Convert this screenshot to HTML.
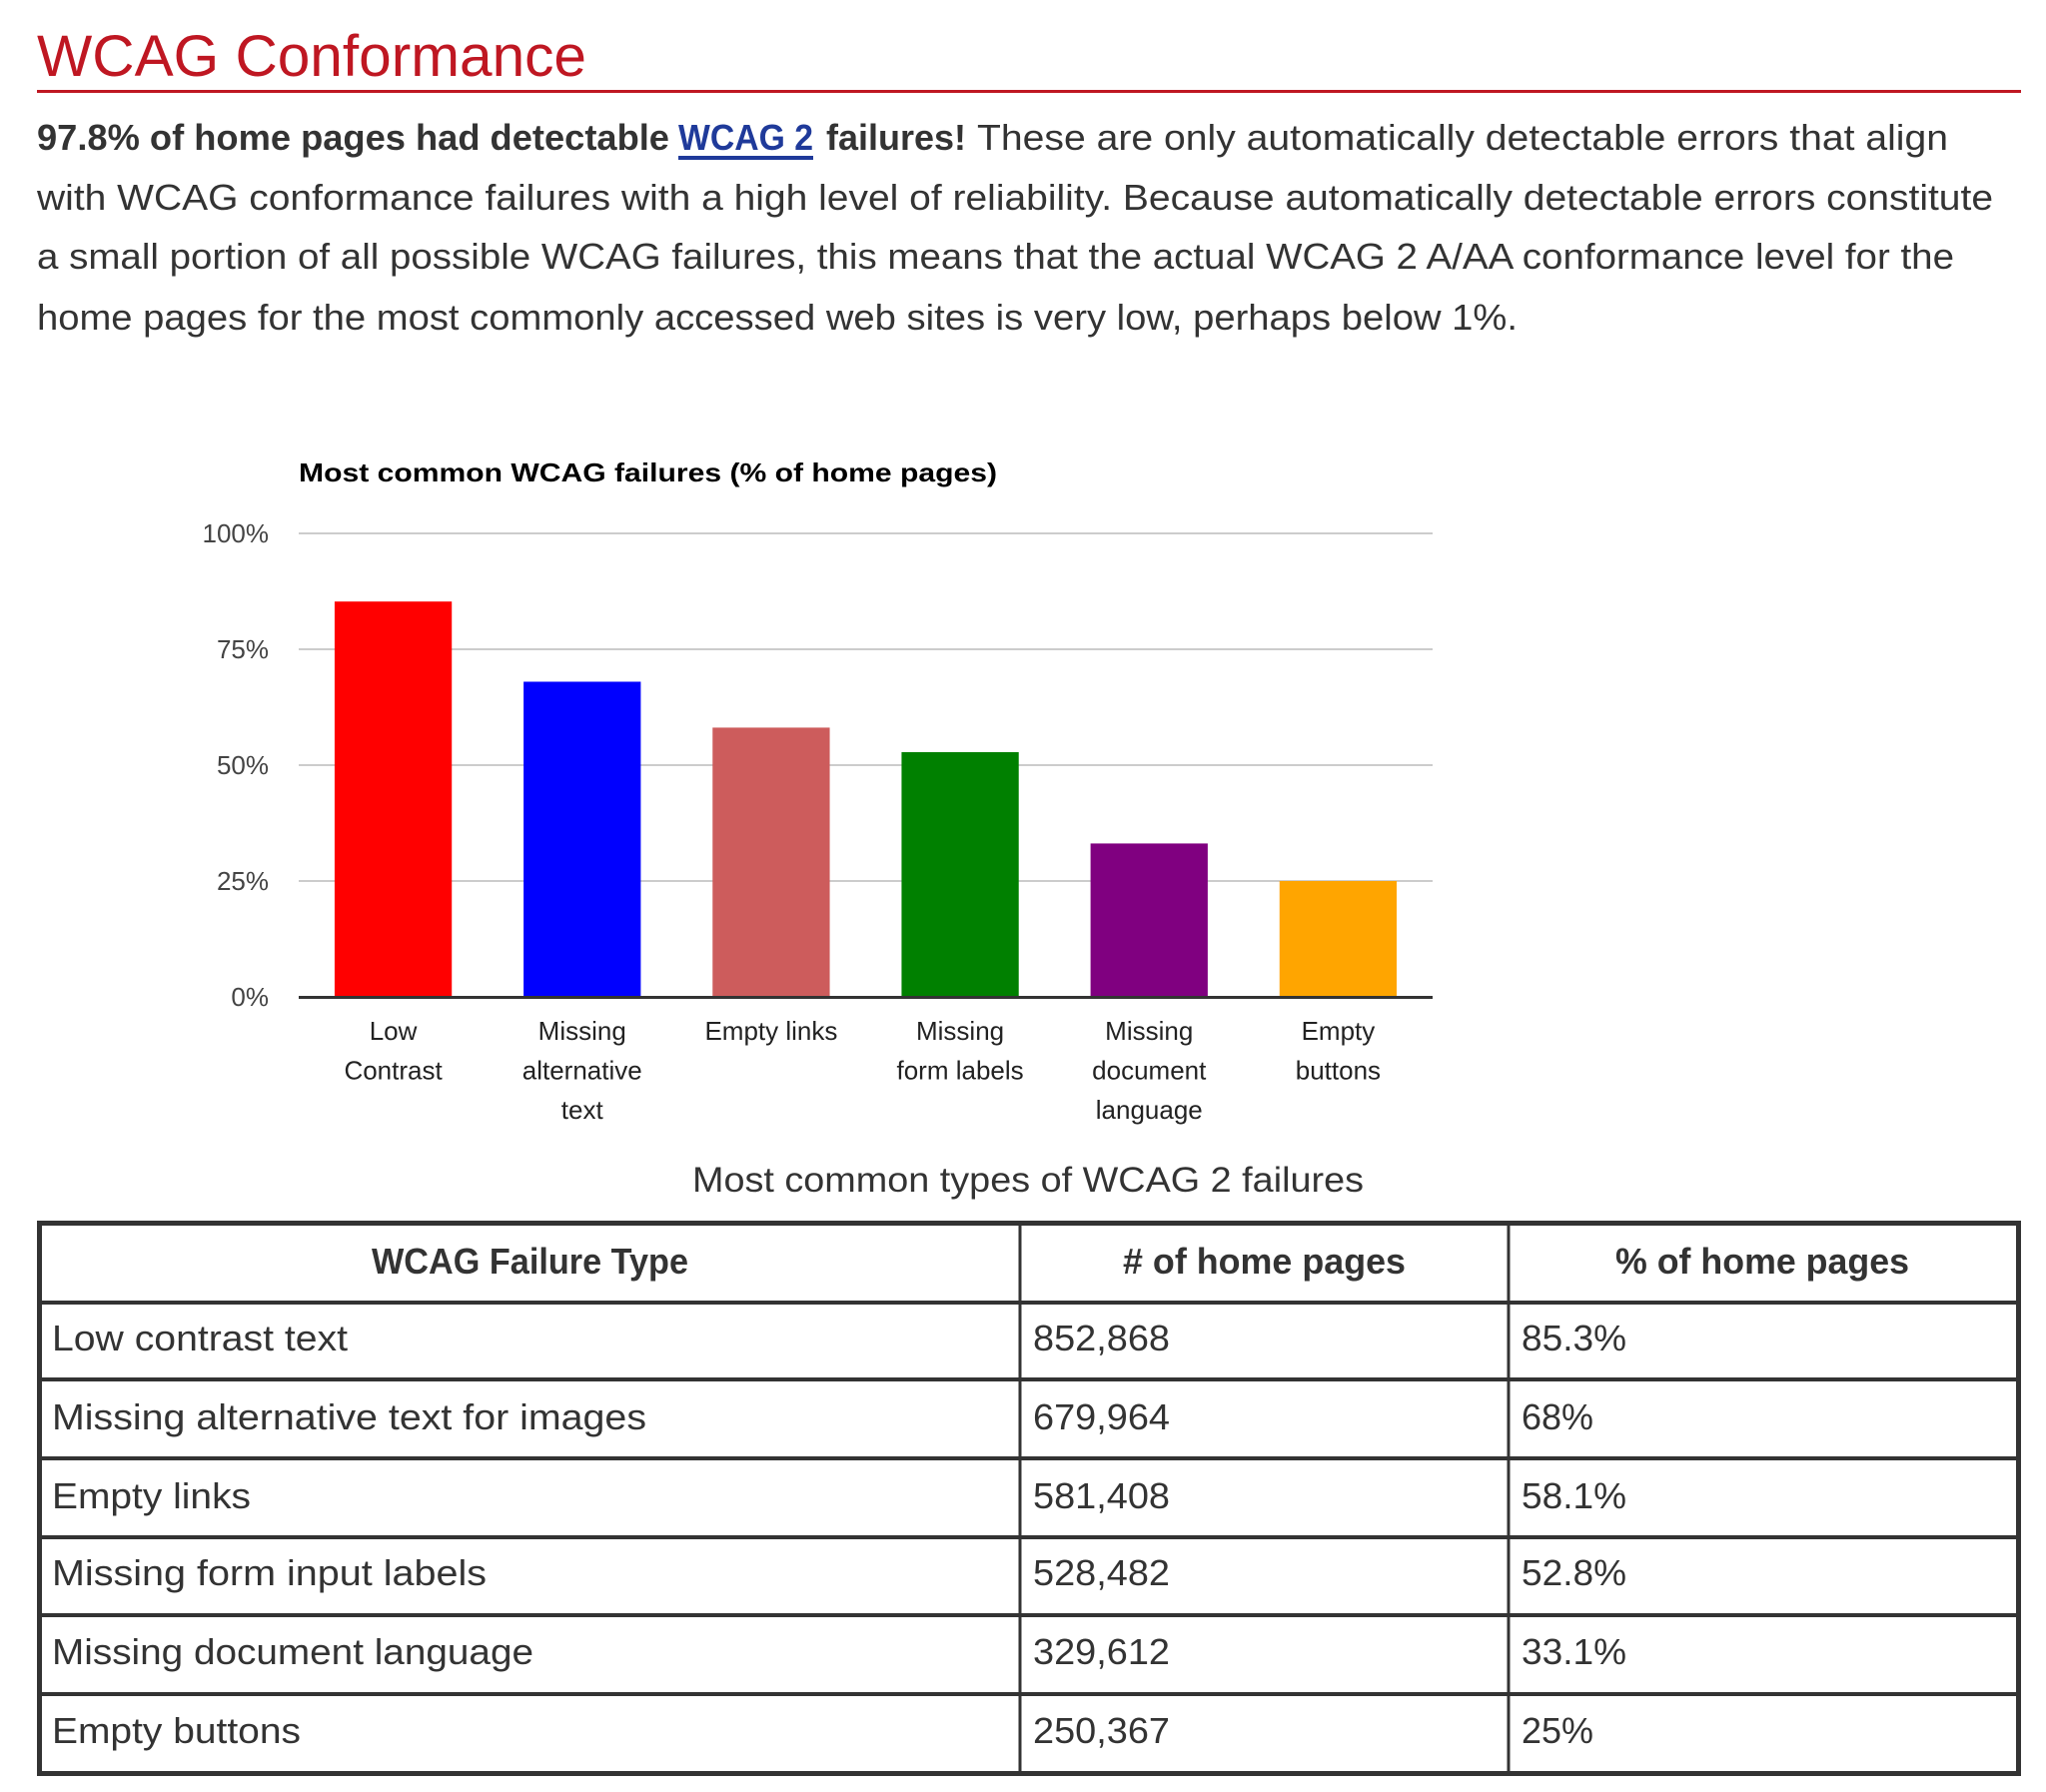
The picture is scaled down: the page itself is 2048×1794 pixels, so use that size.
<!DOCTYPE html>
<html><head><meta charset="utf-8"><style>
html,body{margin:0;padding:0;background:#fff;}
svg{display:block;font-family:"Liberation Sans",Arial,sans-serif;}
</style></head><body>
<svg id="page" width="2048" height="1794" viewBox="0 0 2048 1794" xmlns="http://www.w3.org/2000/svg">
<text x="37" y="76" font-size="58" fill="#bf1722" textLength="550" lengthAdjust="spacingAndGlyphs">WCAG Conformance</text>
<rect x="37" y="90" width="1986" height="3" fill="#bf1722"/>
<g font-size="36" fill="#333">
<text x="37" y="150" font-weight="bold" textLength="633" lengthAdjust="spacingAndGlyphs">97.8% of home pages had detectable</text>
<text x="679" y="150" font-weight="bold" fill="#1f3a9a" textLength="135" lengthAdjust="spacingAndGlyphs">WCAG 2</text>
<rect x="679" y="156" width="135" height="4" fill="#1f3a9a"/>
<text x="827" y="150" font-weight="bold" textLength="140" lengthAdjust="spacingAndGlyphs">failures!</text>
<text x="978" y="150" textLength="972" lengthAdjust="spacingAndGlyphs">These are only automatically detectable errors that align</text>
<text x="37" y="210" textLength="1958" lengthAdjust="spacingAndGlyphs">with WCAG conformance failures with a high level of reliability. Because automatically detectable errors constitute</text>
<text x="37" y="269" textLength="1919" lengthAdjust="spacingAndGlyphs">a small portion of all possible WCAG failures, this means that the actual WCAG 2 A/AA conformance level for the</text>
<text x="37" y="330" textLength="1482" lengthAdjust="spacingAndGlyphs">home pages for the most commonly accessed web sites is very low, perhaps below 1%.</text>
</g>
<g id="chart">
<text x="299" y="482" font-size="26" font-weight="bold" fill="#000" textLength="699" lengthAdjust="spacingAndGlyphs">Most common WCAG failures (% of home pages)</text>
</g>
<text x="1029" y="1193" font-size="35" fill="#333" text-anchor="middle" textLength="672" lengthAdjust="spacingAndGlyphs">Most common types of WCAG 2 failures</text>
<g id="table"></g>
</svg>
<script>
const categories = [["Low","Contrast"],["Missing","alternative","text"],["Empty links"],["Missing","form labels"],["Missing","document","language"],["Empty","buttons"]];
const values = [85.3, 68, 58.1, 52.8, 33.1, 25];
const colors = ["#ff0000","#0000ff","#cd5c5c","#008000","#800080","#ffa500"];
const yTicks = [0, 25, 50, 75, 100];
const yTickLabels = ["0%","25%","50%","75%","100%"];
const NS = "http://www.w3.org/2000/svg";
const chart = document.getElementById("chart");
const x0 = 299, x1 = 1434, yTop = 534, yBot = 998;
const yScale = v => yBot - (v / 100) * (yBot - yTop);
const band = (x1 - x0) / categories.length;
const xScale = i => x0 + band * i + band / 2;
function mk(tag, attrs, parent) { const e = document.createElementNS(NS, tag); for (const k in attrs) e.setAttribute(k, attrs[k]); parent.appendChild(e); return e; }
yTicks.forEach((t, i) => {
  if (t > 0) {
    const g = mk("rect", {x: x0, y: yScale(t) - 1, width: x1 - x0, height: 2, fill: "#cccccc"}, chart);
    
    
  }
  const l = mk("text", {x: 269, y: yScale(t) + 9, "font-size": 26, fill: "#444", "text-anchor": "end"}, chart);
  l.textContent = yTickLabels[i];
  
  
});
const bw = band * 0.62;
values.forEach((v, i) => {
  const r = mk("rect", {x: xScale(i) - bw / 2, y: yScale(v), width: bw, height: yBot - yScale(v), fill: colors[i]}, chart);
  
  
  categories[i].forEach((line, j) => {
    const t = mk("text", {x: xScale(i), y: 1041 + j * 39.5, "font-size": 26, fill: "#222", "text-anchor": "middle"}, chart);
    t.textContent = line;
    
    
  });
});
const axis = mk("rect", {x: x0, y: yBot - 1, width: x1 - x0, height: 3, fill: "#333"}, chart);



// table
const tbl = document.getElementById("table");
const rowNames = ["Low contrast text","Missing alternative text for images","Empty links","Missing form input labels","Missing document language","Empty buttons"];
const counts = ["852,868","679,964","581,408","528,482","329,612","250,367"];
const pcts = ["85.3%","68%","58.1%","52.8%","33.1%","25%"];
const nameW = [296,595,199,435,482,249];
const pctW = [105,72,105,105,105,72];
const rowLines = [1304,1381,1460,1539,1617,1696];
const rowBase = [1352,1431,1510,1587,1666,1745];
rowLines.forEach(y => { const r = mk("rect", {x: 37, y: y - 2, width: 1986, height: 4, fill: "#333"}, tbl);   });
[1021,1510].forEach(x => { const r = mk("rect", {x: x - 1.5, y: 1222, width: 3, height: 556, fill: "#333"}, tbl);   });
const ob = mk("rect", {x: 39.5, y: 1224.5, width: 1981, height: 1551, fill: "none", stroke: "#333", "stroke-width": 5}, tbl);


ob.setAttribute('height', 551);
[["WCAG Failure Type",372,317],["# of home pages",1124,283],["% of home pages",1617,294]].forEach(h => {
  const t = mk("text", {x: h[1], y: 1275, "font-size": 36, "font-weight": "bold", fill: "#333", textLength: h[2], lengthAdjust: "spacingAndGlyphs"}, tbl);
  t.textContent = h[0];
  
  
});
rowNames.forEach((n, i) => {
  const a = mk("text", {x: 52, y: rowBase[i], "font-size": 36, fill: "#333", textLength: nameW[i], lengthAdjust: "spacingAndGlyphs"}, tbl);
  a.textContent = n;
  
  
  const b = mk("text", {x: 1034, y: rowBase[i], "font-size": 36, fill: "#333", textLength: 137, lengthAdjust: "spacingAndGlyphs"}, tbl);
  b.textContent = counts[i];
  
  
  const c = mk("text", {x: 1523, y: rowBase[i], "font-size": 36, fill: "#333", textLength: pctW[i], lengthAdjust: "spacingAndGlyphs"}, tbl);
  c.textContent = pcts[i];
  
  
});
</script>
</body></html>
